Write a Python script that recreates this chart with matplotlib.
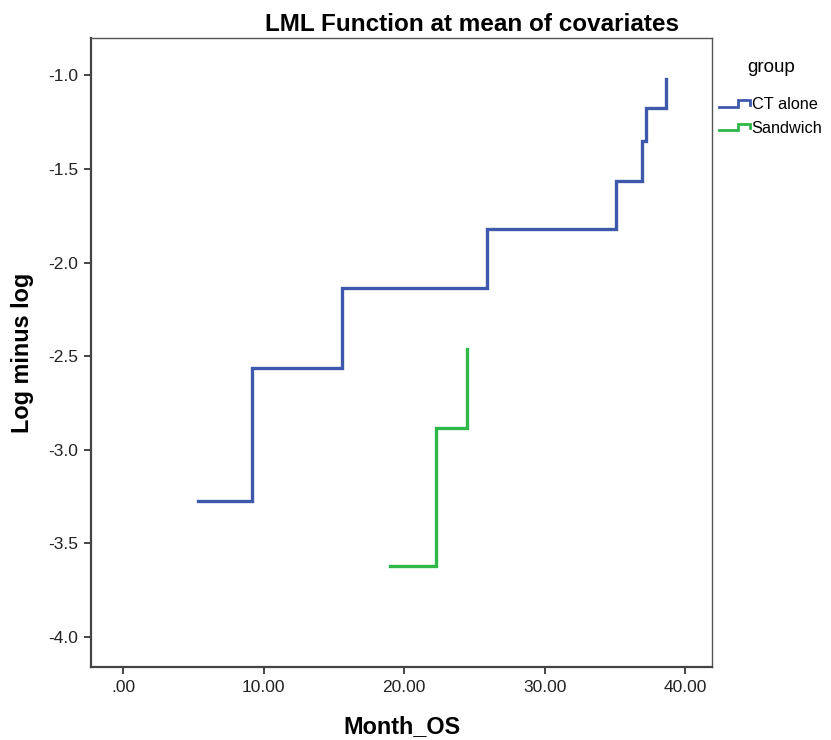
import numpy as np
import matplotlib.pyplot as plt
from matplotlib.lines import Line2D
from matplotlib.legend_handler import HandlerBase

plt.rcParams['font.family'] = ['Liberation Sans', 'DejaVu Sans']

# Datos (tiempo del evento, log(-log S))
ct_times = [5.33, 9.2, 15.6, 25.9, 35.1, 36.9, 37.2, 38.6]
ct_lml = [-3.274, -2.564, -2.136, -1.819, -1.565, -1.351, -1.175, -1.018]
sw_times = [19.0, 22.3, 24.5]
sw_lml = [-3.623, -2.887, -2.464]

groups = ['CT alone', 'Sandwich']
colors = ['#3E58AC', '#2EB848']

xticks = [0, 10, 20, 30, 40]
xtick_labels = ['.00', '10.00', '20.00', '30.00', '40.00']
yticks = [-4.0, -3.5, -3.0, -2.5, -2.0, -1.5, -1.0]


class StepHandler(HandlerBase):
    # dibuja un pequeño escalon como simbolo de la leyenda
    def create_artists(self, legend, orig_handle, xdescent, ydescent,
                       width, height, fontsize, trans):
        xs = np.array([0, 0.6, 0.6, 0.97, 0.97]) * width - xdescent
        ys = np.array([0.15, 0.15, 0.8, 0.8, 0.35]) * height - ydescent
        line = Line2D(xs, ys, color=orig_handle.get_color(),
                      lw=2.0, transform=trans, solid_joinstyle='miter')
        return [line]


W, H = 831, 740
fig = plt.figure(figsize=(W / 100, H / 100), dpi=100)
ax = fig.add_axes([91 / W, 1 - 667 / H, (712 - 91) / W, (667 - 38) / H])

handles = []
for t, v, c, lab in [(ct_times, ct_lml, colors[0], groups[0]),
                     (sw_times, sw_lml, colors[1], groups[1])]:
    h, = ax.plot(t, v, drawstyle='steps-post', color=c, lw=2.4,
                 solid_joinstyle='miter', label=lab)
    handles.append(h)

ax.set_xlim(-2.28, 41.9)
ax.set_ylim(-4.162, -0.80)
ax.set_xticks(xticks)
ax.set_xticklabels(xtick_labels)
ax.set_yticks(yticks)
ax.set_yticklabels(['%.1f' % y for y in yticks])

for s in ['left', 'bottom']:
    ax.spines[s].set_color('#444444')
    ax.spines[s].set_linewidth(1.6)
for s in ['top', 'right']:
    ax.spines[s].set_color('#555555')
    ax.spines[s].set_linewidth(1.0)
ax.tick_params(axis='both', direction='out', length=5, width=1.4,
               color='#444444', labelsize=12.5, labelcolor='#222222', pad=4)

# titulo desplazado a la derecha como en el original
fig.text(472 / W, 1 - 31 / H, 'LML Function at mean of covariates',
         fontsize=17.5, fontweight='bold', ha='center', va='baseline')
ax.set_xlabel('Month_OS', fontsize=16.8, fontweight='bold', labelpad=15)
ax.set_ylabel('Log minus log', fontsize=16.8, fontweight='bold', labelpad=10)

leg = fig.legend(handles=handles, labels=groups, title='group',
                 loc='upper left', bbox_to_anchor=(719 / W, 1 - 59 / H),
                 frameon=False, fontsize=11.7, title_fontsize=13.5,
                 handler_map={Line2D: StepHandler()},
                 handlelength=1.95, handleheight=0.55, handletextpad=0.05,
                 borderpad=0, borderaxespad=0, labelspacing=0.55)
leg._legend_box.sep = 15

plt.savefig('out.png', dpi=100)
